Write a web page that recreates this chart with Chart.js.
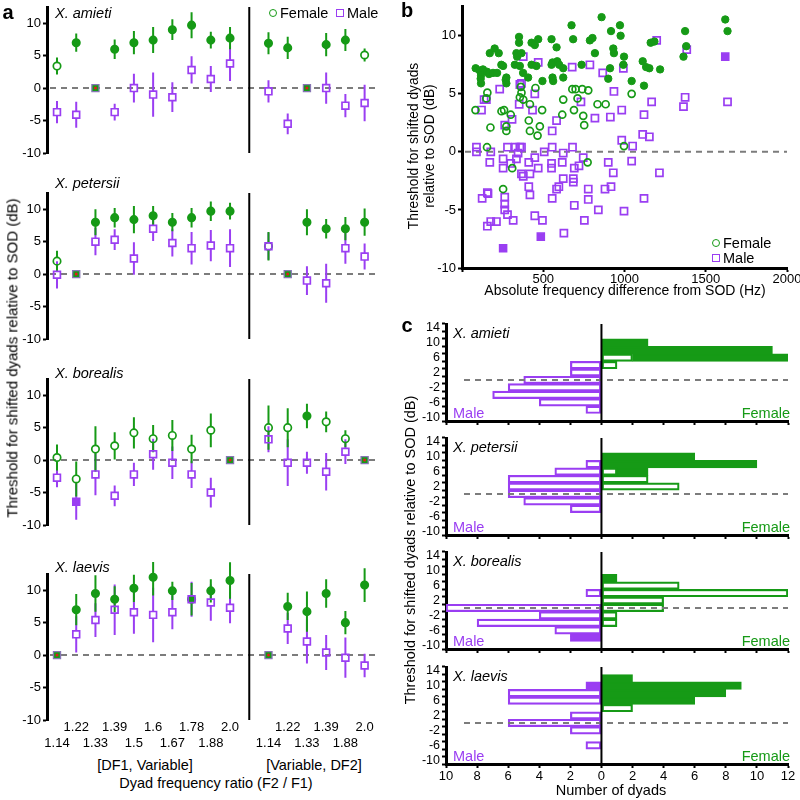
<!DOCTYPE html>
<html>
<head>
<meta charset="utf-8">
<title>Dyad thresholds</title>
<script src="https://cdn.jsdelivr.net/npm/chart.js@4.4.1/dist/chart.umd.min.js"></script>
<style>
  body { margin: 0; width: 800px; height: 800px; position: relative; overflow: hidden; background: #fff;
         font-family: 'Liberation Sans', Arial, sans-serif; }
  canvas { position: absolute; }
  .t { position: absolute; white-space: nowrap; line-height: 1.15; color: #000; }
  .mk { position: absolute; box-sizing: border-box; }
</style>
</head>
<body>
<script>
const GREEN = '#169a16';
const PURPLE = '#9a3ef2';
const GREY = '#7c7c7c';

// ---- panel a : mean threshold per dyad ratio ----
const ratioLeft = ['1.14', '1.22', '1.33', '1.39', '1.5', '1.6', '1.67', '1.78', '1.88', '2.0'];
const ratioRight = ['1.14', '1.22', '1.33', '1.39', '1.88', '2.0'];
const xPos = [0, 1, 2, 3, 4, 5, 6, 7, 8, 9, 11, 12, 13, 14, 15, 16];
const species = ['X. amieti', 'X. petersii', 'X. borealis', 'X. laevis'];

const amietiFemale     = [3.4, 7.0, null, 6.0, 7.0, 7.4, 9.0, 9.7, 7.4, 7.7, 6.9, 6.2, null, 6.7, 7.4, 5.1];
const amietiFemaleErr  = [1.3, 1.4, null, 1.5, 1.8, 2.0, 1.6, 2.0, 1.3, 1.7, 1.7, 1.7, null, 1.8, 1.7, 1.0];
const amietiFemaleFill = [0, 1, null, 1, 1, 1, 1, 1, 1, 1, 1, 1, null, 1, 1, 0];
const amietiMale       = [-3.7, -4.1, null, -3.7, 0.0, -1.0, -1.4, 2.8, 1.4, 3.8, -0.5, -5.5, null, 0.0, -2.7, -2.3];
const amietiMaleErr    = [1.7, 2.0, null, 1.3, 2.2, 3.4, 2.3, 2.1, 2.0, 2.7, 1.7, 1.6, null, 2.4, 1.8, 2.8];
const amietiMaleFill   = [0, 0, null, 0, 0, 0, 0, 0, 0, 0, 0, 0, null, 0, 0, 0];

const petersiiFemale     = [2.0, null, 8.0, 8.7, 8.4, 9.0, 8.0, 8.7, 9.7, 9.7, 4.3, null, 8.0, 7.0, 7.0, 8.0];
const petersiiFemaleErr  = [1.6, null, 2.0, 1.5, 2.1, 1.5, 1.4, 1.5, 1.5, 1.3, 2.2, null, 2.0, 1.5, 1.8, 2.1];
const petersiiFemaleFill = [0, null, 1, 1, 1, 1, 1, 1, 1, 1, 0, null, 1, 1, 1, 1];
const petersiiMale       = [-0.1, null, 5.0, 5.3, 2.4, 7.0, 4.8, 4.0, 4.4, 4.0, 4.3, null, -1.0, -1.4, 4.0, 2.7];
const petersiiMaleErr    = [2.1, null, 2.1, 1.6, 2.5, 1.9, 2.1, 2.5, 2.4, 2.9, 2.1, null, 2.2, 3.0, 2.4, 2.0];
const petersiiMaleFill   = [0, null, 0, 0, 0, 0, 0, 0, 0, 0, 0, null, 0, 0, 0, 0];

const borealisFemale     = [0.4, -2.9, 1.7, 2.2, 4.2, 3.3, 3.8, 1.7, 4.6, null, 5.0, 5.0, 6.8, 5.9, 3.3, null];
const borealisFemaleErr  = [2.0, 2.7, 3.5, 2.1, 2.4, 2.1, 2.4, 2.2, 2.6, null, 3.4, 3.0, 1.9, 1.6, 1.3, null];
const borealisFemaleFill = [0, 0, 0, 0, 0, 0, 0, 0, 0, null, 0, 0, 1, 0, 0, null];
const borealisMale       = [-2.7, -6.4, -2.2, -5.5, -2.2, 0.9, -0.4, -2.2, -5.0, null, 3.2, -0.4, -0.4, -1.8, 1.3, null];
const borealisMaleErr    = [1.5, 2.8, 3.2, 1.6, 1.8, 2.4, 2.5, 2.1, 2.3, null, 2.0, 3.6, 1.7, 2.9, 1.9, null];
const borealisMaleFill   = [0, 1, 0, 0, 0, 0, 0, 0, 0, null, 0, 0, 0, 0, 0, null];

const laevisFemale     = [null, 7.0, 9.5, 8.6, 10.3, 12.0, 9.9, 8.6, 9.9, 11.5, null, 7.5, 6.7, 9.5, 5.0, 10.8];
const laevisFemaleErr  = [null, 2.4, 2.8, 2.0, 2.1, 2.8, 1.4, 2.5, 1.8, 2.8, null, 2.1, 3.1, 2.2, 1.8, 2.6];
const laevisFemaleFill = [null, 1, 1, 1, 1, 1, 1, 1, 1, 1, null, 1, 1, 1, 1, 1];
const laevisMale       = [null, 3.2, 5.4, 7.0, 6.6, 6.2, 6.6, 8.6, 8.1, 7.3, null, 4.1, 2.1, 0.4, -0.4, -1.6];
const laevisMaleErr    = [null, 2.8, 2.6, 3.9, 3.3, 4.2, 2.6, 2.7, 2.8, 2.4, null, 2.4, 3.4, 2.7, 3.1, 1.8];
const laevisMaleFill   = [null, 0, 0, 0, 0, 0, 0, 0, 0, 0, null, 0, 0, 0, 0, 0];

// index into xPos of the reference dyad (0 dB by definition)
const refIdx = [[2, 12], [1, 11], [9, 15], [0, 10]];

// ---- panel b : threshold vs frequency difference [Hz, dB] ----
const femaleFilled = [
  [84,7.2],[109,7.0],[129,7.1],[117,6.6],[115,6.3],[117,5.9],[154,6.9],[171,8.5],[201,8.9],[226,8.5],
  [166,6.7],[191,6.8],[216,6.8],[253,7.4],[242,7.5],[273,6.4],[269,6.2],[273,5.9],[339,8.2],[335,8.5],
  [351,9.9],[351,9.4],[366,8.5],[325,7.5],[356,7.4],[376,6.8],[407,6.4],[428,7.5],[428,9.4],[448,9.2],
  [469,9.7],[458,7.4],[495,6.1],[551,9.7],[557,7.7],[582,9.0],[586,7.8],[551,7.5],[598,7.5],[623,7.2],
  [557,6.4],[561,6.1],[623,6.4],[674,10.9],[684,9.7],[736,7.5],[787,9.6],[803,9.8],[818,8.5],[859,11.6],
  [911,7.2],[917,10.4],[931,8.9],[935,8.5],[972,10.9],[976,10.0],[997,8.2],[993,7.5],[900,6.3],[1044,6.1],
  [1120,5.7],[1112,7.8],[1133,7.3],[1153,7.2],[1219,7.1],[1161,9.4],[1184,9.5],[1363,8.2],[1373,10.4],
  [1380,9.1],[1620,11.4],[1634,10.4]
];
const femaleOpen = [
  [156,5.1],[150,4.6],[83,3.6],[175,2.1],[243,3.5],[259,3.6],[273,2.2],[273,1.8],[300,3.2],[362,5.6],
  [366,5.1],[356,4.7],[377,4.5],[418,4.1],[411,2.7],[418,1.8],[465,1.4],[479,2.2],[493,3.6],[452,5.5],
  [623,4.5],[617,3.2],[689,3.6],[679,5.4],[699,5.4],[740,5.4],[777,5.3],[711,4.6],[746,3.1],[752,2.3],
  [834,4.1],[884,4.1],[1044,5.0],[154,0.4],[309,-1.4],[253,-3.2],[773,-0.9],[997,0.5]
];
const maleOpen = [
  [377,8.2],[469,7.7],[678,7.3],[787,7.5],[866,6.8],[993,7.2],[232,5.4],[356,5.8],[366,5.9],[448,5.0],
  [136,4.5],[150,4.5],[120,3.6],[352,4.1],[434,3.6],[582,2.7],[732,4.3],[818,2.9],[913,3.0],[935,5.2],
  [983,3.6],[263,2.3],[308,2.8],[555,1.8],[983,1.0],[1198,9.6],[1383,8.8],[1167,4.3],[1373,4.7],[1363,3.9],
  [1634,4.3],[1120,3.2],[1112,1.5],[1153,1.3],
  [89,0.4],[89,0.0],[177,0.0],[171,-0.9],[280,0.4],[329,0.4],[356,0.4],[366,0.4],[253,-0.6],[253,-1.4],
  [335,-0.6],[345,-0.1],[300,-1.0],[411,-0.9],[448,-0.5],[469,-1.4],[506,0.0],[555,0.4],[551,-1.0],[551,-1.4],
  [623,-0.1],[617,-0.9],[680,0.4],[691,-1.4],[720,-1.2],[746,-0.5],[900,-0.9],[931,-1.8],[623,-2.3],[685,-2.3],
  [685,-2.6],[582,-3.2],[596,-3.0],[777,-3.2],[880,-3.2],[917,-3.0],[366,-1.9],[377,-2.1],[418,-1.9],[411,-3.0],
  [418,-3.7],[160,-3.6],[124,-4.0],[156,-3.5],[263,-3.9],[263,-4.5],[263,-5.0],[280,-5.4],[315,-5.9],[177,-6.0],
  [212,-6.0],[156,-6.4],[448,-5.5],[495,-5.9],[555,-4.0],[691,-4.6],[777,-4.1],[839,-5.0],[753,-5.9],[627,-7.0],
  [1050,0.5],[1044,-0.8],[1215,-1.8],[1120,-4.0],[997,-5.1]
];
const maleFilled = [[253,-8.3],[485,-7.3],[1620,8.2]];

// ---- panel c : histograms, 2 dB bins ----
const bins = [-8, -6, -4, -2, 0, 2, 4, 6, 8, 10, 12];
const amietiMaleOpen     = [1, 4, 7, 6, 5, 2, 2, 0, 0, 0, 0];
const amietiMaleSig      = [0, 0, 0, 0, 0, 0, 0, 0, 0, 0, 0];
const amietiFemaleOpen   = [0, 0, 0, 0, 0, 0, 1, 2, 0, 0, 0];
const amietiFemaleSig    = [0, 0, 0, 0, 0, 0, 0, 10, 11, 3, 0];
const petersiiMaleOpen   = [0, 0, 2, 5, 6, 6, 6, 3, 1, 0, 0];
const petersiiMaleSig    = [0, 0, 0, 0, 0, 0, 0, 0, 0, 0, 0];
const petersiiFemaleOpen = [0, 0, 0, 0, 0, 5, 3, 1, 0, 0, 0];
const petersiiFemaleSig  = [0, 0, 0, 0, 0, 0, 0, 2, 10, 6, 0];
const borealisMaleOpen   = [0, 3, 8, 4, 10, 0, 1, 0, 0, 0, 0];
const borealisMaleSig    = [2, 0, 0, 0, 0, 0, 0, 0, 0, 0, 0];
const borealisFemaleOpen = [0, 0, 1, 1, 4, 4, 12, 5, 0, 0, 0];
const borealisFemaleSig  = [0, 0, 0, 0, 0, 0, 0, 0, 1, 0, 0];
const laevisMaleOpen     = [0, 1, 0, 2, 6, 2, 0, 6, 6, 0, 0];
const laevisMaleSig      = [0, 0, 0, 0, 0, 0, 0, 0, 0, 1, 0];
const laevisFemaleOpen   = [0, 0, 0, 0, 0, 0, 2, 0, 0, 0, 0];
const laevisFemaleSig    = [0, 0, 0, 0, 0, 0, 0, 6, 8, 9, 2];

const femaleVals = [amietiFemale, petersiiFemale, borealisFemale, laevisFemale];
const femaleErrs = [amietiFemaleErr, petersiiFemaleErr, borealisFemaleErr, laevisFemaleErr];
const femaleFills = [amietiFemaleFill, petersiiFemaleFill, borealisFemaleFill, laevisFemaleFill];
const maleVals = [amietiMale, petersiiMale, borealisMale, laevisMale];
const maleErrs = [amietiMaleErr, petersiiMaleErr, borealisMaleErr, laevisMaleErr];
const maleFills = [amietiMaleFill, petersiiMaleFill, borealisMaleFill, laevisMaleFill];
const histMaleOpen = [amietiMaleOpen, petersiiMaleOpen, borealisMaleOpen, laevisMaleOpen];
const histMaleSig = [amietiMaleSig, petersiiMaleSig, borealisMaleSig, laevisMaleSig];
const histFemaleOpen = [amietiFemaleOpen, petersiiFemaleOpen, borealisFemaleOpen, laevisFemaleOpen];
const histFemaleSig = [amietiFemaleSig, petersiiFemaleSig, borealisFemaleSig, laevisFemaleSig];

Chart.defaults.font.family = "'Liberation Sans', Arial, sans-serif";
Chart.defaults.font.size = 13;
Chart.defaults.color = '#000';
Chart.defaults.animation = false;
Chart.defaults.responsive = false;
Chart.defaults.plugins.legend.display = false;
Chart.defaults.plugins.tooltip.enabled = false;

function makeCanvas(left, top, w, h) {
  const c = document.createElement('canvas');
  c.width = w; c.height = h;
  c.style.left = left + 'px'; c.style.top = top + 'px';
  document.body.appendChild(c);
  return c.getContext('2d');
}

// force axis sizes so chart areas land where the reference has them
function fixW(w) { return s => { s.width = w; s.paddingTop = 0; s.paddingBottom = 0; }; }
function fixH(h) { return s => { s.height = h; s.paddingLeft = 0; s.paddingRight = 0; }; }
function setTicks(vals) { return s => { s.ticks = vals.map(v => ({value: v})); }; }

function txt(s, x, y, o = {}) {
  const d = document.createElement('div');
  d.className = 't';
  if (o.html) d.innerHTML = s; else d.textContent = s;
  d.style.left = x + 'px'; d.style.top = y + 'px';
  d.style.fontSize = (o.size || 14) + 'px';
  if (o.color) d.style.color = o.color;
  if (o.italic) d.style.fontStyle = 'italic';
  if (o.bold) d.style.fontWeight = 'bold';
  if (o.center) d.style.textAlign = 'center';
  const ax = o.align === 'right' ? '-100%' : o.align === 'left' ? '0' : '-50%';
  d.style.transform = 'translate(' + ax + ', -50%)' + (o.rot ? ' rotate(-90deg)' : '');
  document.body.appendChild(d);
}

function marker(cx, cy, round, color) {
  const d = document.createElement('div');
  d.className = 'mk';
  const sz = 8;
  d.style.width = sz + 'px'; d.style.height = sz + 'px';
  d.style.left = (cx - sz / 2) + 'px'; d.style.top = (cy - sz / 2) + 'px';
  d.style.border = '1.8px solid ' + color;
  if (round) d.style.borderRadius = '50%';
  document.body.appendChild(d);
}

const axisGrid = {drawOnChartArea: false, tickLength: 4, tickWidth: 2, tickColor: '#000'};
const axisBorder = {display: true, width: 3, color: '#000'};

// error bars, drawn under the markers and skipping the marker interior
const errorBars = {
  id: 'errorBars',
  beforeDatasetsDraw(chart) {
    const {ctx, scales: {x, y}} = chart;
    ctx.save();
    ctx.lineWidth = 2;
    chart.data.datasets.forEach(ds => {
      if (!ds.errColor) return;
      ctx.strokeStyle = ds.errColor;
      ds.data.forEach(p => {
        if (p.e == null) return;
        const px = x.getPixelForValue(p.x), py = y.getPixelForValue(p.y);
        ctx.beginPath();
        ctx.moveTo(px, y.getPixelForValue(p.y + p.e)); ctx.lineTo(px, py - ds.gap);
        ctx.moveTo(px, py + ds.gap); ctx.lineTo(px, y.getPixelForValue(p.y - p.e));
        ctx.stroke();
      });
    });
    ctx.restore();
  }
};

function dashedZero(chart, x0) {
  const {ctx, chartArea: a, scales: {y}} = chart;
  const y0 = y.getPixelForValue(0);
  ctx.save();
  ctx.strokeStyle = GREY; ctx.lineWidth = 2; ctx.setLineDash([6, 5]);
  ctx.beginPath(); ctx.moveTo(x0 == null ? a.left + 3 : x0, y0); ctx.lineTo(a.right, y0); ctx.stroke();
  ctx.restore();
}

function vLine(chart, v) {
  const {ctx, chartArea: a, scales: {x}} = chart;
  const xp = x.getPixelForValue(v);
  ctx.save();
  ctx.strokeStyle = '#000'; ctx.lineWidth = 2;
  ctx.beginPath(); ctx.moveTo(xp, a.top); ctx.lineTo(xp, a.bottom); ctx.stroke();
  ctx.restore();
}

const aDecor = {
  id: 'aDecor',
  beforeDatasetsDraw(chart) { dashedZero(chart); vLine(chart, 10); }
};
const bDecor = {
  id: 'bDecor',
  beforeDatasetsDraw(chart) { dashedZero(chart); }
};
const cDecor = {
  id: 'cDecor',
  afterDatasetsDraw(chart) { dashedZero(chart, chart.chartArea.left + 18); vLine(chart, 0); }
};

// ---------- panel a ----------
const A_TOP = [7, 193, 379, 574];  // pixel of the 12.5 dB top
const A_H = 146;
const A_PAD = [7, 12, 12, 12];

function panelA(k) {
  const last = k === 3;
  const padTop = A_PAD[k];
  const h = padTop + A_H + (last ? 34 : 12);
  const ctx = makeCanvas(0, A_TOP[k] - padTop, 400, h);
  const pts = (vals, errs, fill) => xPos.map((x, i) => ({x: x, y: vals[i], e: errs[i], f: fill[i]}))
                                        .filter(p => p.y != null);
  const fem = pts(femaleVals[k], femaleErrs[k], femaleFills[k]);
  const mal = pts(maleVals[k], maleErrs[k], maleFills[k]);
  const ref = refIdx[k].map(i => ({x: xPos[i], y: 0}));
  const xScale = {
    type: 'linear', min: -0.52, max: 16.8, display: last,
    afterBuildTicks: setTicks(xPos),
    grid: {display: false, drawTicks: false}, border: {display: false},
    ticks: {
      autoSkip: false, maxRotation: 0, padding: 0, font: {size: 13},
      callback: v => {
        const lbl = v < 10 ? ratioLeft[v] : ratioRight[v - 11];
        const low = v < 10 ? v % 2 === 0 : v % 2 === 1;
        return low ? ['', lbl] : lbl;
      }
    }
  };
  if (last) xScale.afterFit = fixH(34);
  new Chart(ctx, {
    type: 'scatter',
    data: {datasets: [
      {data: ref, clip: false, pointStyle: 'circle', pointRadius: 1.5, pointBackgroundColor: '#e21b1b', pointBorderWidth: 0},
      {data: ref, clip: false, pointStyle: 'rect', pointRadius: 5, pointBackgroundColor: GREEN,
       pointBorderColor: '#8676b4', pointBorderWidth: 1.3},
      {data: mal, clip: false, pointStyle: 'rect', pointRadius: 4.8, pointBorderColor: PURPLE, pointBorderWidth: 1.7,
       pointBackgroundColor: mal.map(p => p.f ? PURPLE : 'rgba(0,0,0,0)'), errColor: PURPLE, gap: 3.4},
      {data: fem, clip: false, pointStyle: 'circle', pointRadius: 3.7, pointBorderColor: GREEN, pointBorderWidth: 1.7,
       pointBackgroundColor: fem.map(p => p.f ? GREEN : 'rgba(0,0,0,0)'), errColor: GREEN, gap: 3.7}
    ]},
    options: {
      layout: {padding: {top: padTop, right: 20, left: 0, bottom: last ? 0 : 12}},
      scales: {
        x: xScale,
        y: {
          min: -10, max: 12.5,
          afterBuildTicks: setTicks([-10, -5, 0, 5, 10]), afterFit: fixW(47),
          border: axisBorder, grid: axisGrid,
          ticks: {padding: 2, font: {size: 13}}
        }
      }
    },
    plugins: [aDecor, errorBars]
  });
}

// ---------- panel b ----------
function panelB() {
  const ctx = makeCanvas(400, 0, 400, 300);
  const toXY = arr => arr.map(p => ({x: p[0], y: p[1]}));
  new Chart(ctx, {
    type: 'scatter',
    data: {datasets: [
      {data: toXY(femaleFilled), clip: false, pointStyle: 'circle', pointRadius: 3.7,
       pointBackgroundColor: GREEN, pointBorderColor: GREEN, pointBorderWidth: 1},
      {data: toXY(femaleOpen), clip: false, pointStyle: 'circle', pointRadius: 3.5,
       pointBackgroundColor: 'rgba(0,0,0,0)', pointBorderColor: GREEN, pointBorderWidth: 1.7},
      {data: toXY(maleFilled), clip: false, pointStyle: 'rect', pointRadius: 5,
       pointBackgroundColor: PURPLE, pointBorderColor: PURPLE, pointBorderWidth: 1.5},
      {data: toXY(maleOpen), clip: false, pointStyle: 'rect', pointRadius: 5,
       pointBackgroundColor: 'rgba(0,0,0,0)', pointBorderColor: PURPLE, pointBorderWidth: 1.7}
    ]},
    options: {
      layout: {padding: {top: 2, right: 13, left: 0, bottom: 0}},
      scales: {
        x: {
          type: 'linear', min: 0, max: 2000,
          afterBuildTicks: setTicks([0, 500, 1000, 1500, 2000]), afterFit: fixH(32),
          border: axisBorder, grid: axisGrid,
          ticks: {padding: 0, maxRotation: 0, font: {size: 13}, callback: v => v === 0 ? '' : String(v)}
        },
        y: {
          min: -10, max: 12.5,
          afterBuildTicks: setTicks([-10, -5, 0, 5, 10]), afterFit: fixW(62),
          border: axisBorder, grid: axisGrid,
          ticks: {padding: 2, font: {size: 13}}
        }
      }
    },
    plugins: [bDecor]
  });
}

// ---------- panel c ----------
const C_TOP = [324, 437.5, 552, 666.5];
const C_H = 97;

function panelC(k) {
  const last = k === 3;
  const bottom = last ? 26 : 8;
  const ctx = makeCanvas(400, C_TOP[k] - 8, 400, 8 + C_H + bottom);
  const neg = arr => arr.map(v => v ? -v : null);
  const pos = arr => arr.map(v => v ? v : null);
  const bar = (data, color, filled) => ({
    data: data, stack: 's', backgroundColor: filled ? color : '#fff', borderColor: color,
    borderWidth: 2.2, borderSkipped: false, barPercentage: 1, categoryPercentage: 1
  });
  new Chart(ctx, {
    type: 'bar',
    data: {
      labels: bins,
      datasets: [
        bar(neg(histMaleOpen[k]), PURPLE, false),
        bar(neg(histMaleSig[k]), PURPLE, true),
        bar(pos(histFemaleOpen[k]), GREEN, false),
        bar(pos(histFemaleSig[k]), GREEN, true)
      ]
    },
    options: {
      indexAxis: 'y',
      layout: {padding: {top: 8, right: 12, left: 0, bottom: 0}},
      scales: {
        x: {
          type: 'linear', min: -10, max: 12, stacked: true,
          afterBuildTicks: setTicks([-10, -8, -6, -4, -2, 0, 2, 4, 6, 8, 10, 12]), afterFit: fixH(bottom),
          border: axisBorder, grid: axisGrid,
          ticks: {display: last, padding: 1, maxRotation: 0, autoSkip: false, font: {size: 13},
                  callback: v => String(Math.abs(v))}
        },
        y: {
          type: 'linear', min: -10, max: 14, stacked: true,
          afterBuildTicks: setTicks([-10, -8, -6, -4, -2, 0, 2, 4, 6, 8, 10, 12, 14]), afterFit: fixW(46),
          border: axisBorder, grid: axisGrid,
          ticks: {padding: 2, autoSkip: false, font: {size: 12.5},
                  callback: v => ((v + 10) % 4 === 0 ? String(v) : '')}
        }
      }
    },
    plugins: [cDecor]
  });
}

for (let k = 0; k < 4; k++) panelA(k);
panelB();
for (let k = 0; k < 4; k++) panelC(k);

// ---------- text ----------
txt('a', 8, 12, {size: 20, bold: true});
txt('b', 407, 10, {size: 20, bold: true});
txt('c', 407, 325, {size: 20, bold: true});

const aSpeciesY = [13, 183, 373, 567];
species.forEach((s, k) => txt(s, 55, aSpeciesY[k], {align: 'left', italic: true, size: 14.5}));
marker(273, 13, true, GREEN);
txt('Female', 280, 13, {align: 'left', size: 14.5});
marker(340, 13, false, PURPLE);
txt('Male', 347, 13, {align: 'left', size: 14.5});

txt('Threshold for shifted dyads relative to SOD (dB)', 12, 358, {size: 15, rot: true});
txt('[DF1, Variable]', 145, 765, {size: 14.5});
txt('[Variable, DF2]', 314, 765, {size: 14.5});
txt('Dyad frequency ratio (F2 / F1)', 216, 783, {size: 14.5});

txt('Threshold for shifted dyads<br>relative to SOD (dB)', 422, 146, {size: 13.8, rot: true, html: true, center: true});
txt('Absolute frequency difference from SOD (Hz)', 625, 290, {size: 14});
marker(716, 243, true, GREEN);
txt('Female', 723, 243, {align: 'left', size: 14.5});
marker(716, 258, false, PURPLE);
txt('Male', 723, 258, {align: 'left', size: 14.5});

species.forEach((s, k) => {
  txt(s, 453, C_TOP[k] + 9, {align: 'left', italic: true, size: 14.5});
  txt('Male', 453, C_TOP[k] + 89, {align: 'left', size: 14.5, color: PURPLE});
  txt('Female', 790, C_TOP[k] + 89, {align: 'right', size: 14.5, color: GREEN});
});
txt('Threshold for shifted dyads relative to SOD (dB)', 410, 550, {size: 14.5, rot: true});
txt('Number of dyads', 611, 790, {size: 14.5});
</script>
</body>
</html>
